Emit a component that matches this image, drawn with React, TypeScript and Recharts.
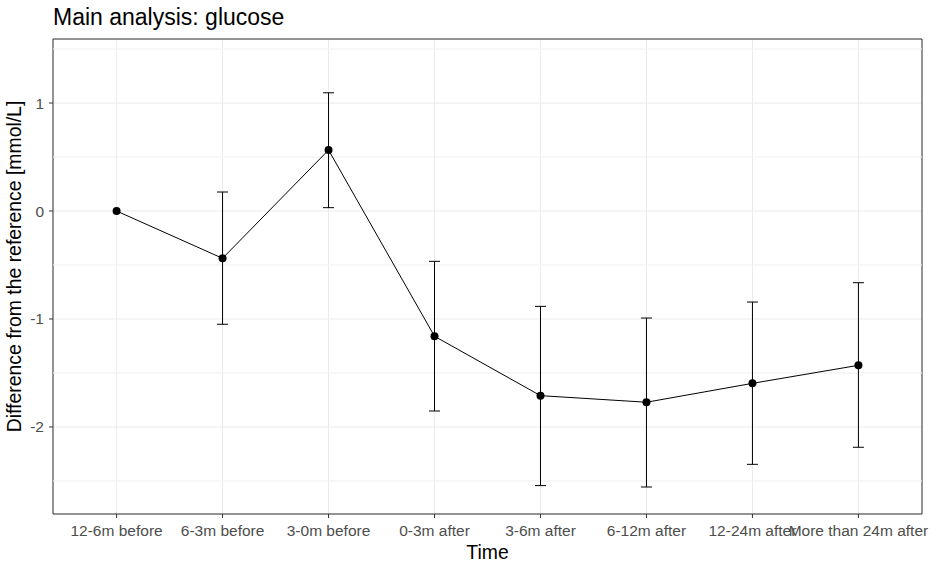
import React from "react";
import {
    ComposedChart,
    Line,
    ErrorBar,
    XAxis,
    YAxis,
    CartesianGrid,
    ReferenceLine,
    ReferenceArea,
} from "recharts";

const categories = [
    "12-6m before",
    "6-3m before",
    "3-0m before",
    "0-3m after",
    "3-6m after",
    "6-12m after",
    "12-24m after",
    "More than 24m after",
];
const estimates = [0, -0.438, 0.565, -1.16, -1.71, -1.771, -1.596, -1.429];
const lowerCI = [null, -1.049, 0.031, -1.852, -2.543, -2.556, -2.346, -2.188];
const upperCI = [null, 0.176, 1.095, -0.466, -0.883, -0.991, -0.843, -0.664];

const yTicks = [-2, -1, 0, 1];
const yMinor = [-2.5, -1.5, -0.5, 0.5, 1.5];
const Y_DOMAIN: [number, number] = [-2.806, 1.593];
const X_DOMAIN: [number, number] = [0.4, 8.6];

const data = categories.map((name, i) => ({
    idx: i + 1,
    name,
    est: estimates[i],
    err:
        lowerCI[i] == null
            ? null
            : [estimates[i] - (lowerCI[i] as number), (upperCI[i] as number) - estimates[i]],
}));

const font = "'Liberation Sans', Arial, sans-serif";

export default function App() {
    return (
        <div
            style={{
                position: "absolute",
                left: 0,
                top: 0,
                width: 932,
                height: 565,
                background: "#fff",
                fontFamily: font,
            }}
        >
            <div
                style={{
                    position: "absolute",
                    left: 53,
                    top: 4,
                    fontSize: 23,
                    color: "#000",
                }}
            >
                Main analysis: glucose
            </div>
            <ComposedChart
                width={932}
                height={565}
                data={data}
                margin={{ top: 39, right: 10, bottom: 0, left: 0 }}
            >
                <CartesianGrid stroke="#ebebeb" strokeWidth={1} />
                {yMinor.map((v) => (
                    <ReferenceLine key={v} y={v} stroke="#efefef" strokeWidth={1} />
                ))}
                <XAxis
                    dataKey="idx"
                    type="number"
                    domain={X_DOMAIN}
                    ticks={categories.map((_, i) => i + 1)}
                    tickFormatter={(v: number) => categories[v - 1]}
                    allowDataOverflow
                    interval={0}
                    height={51}
                    axisLine={false}
                    tickLine={{ stroke: "#333" }}
                    tickSize={4}
                    tickMargin={7}
                    tick={{ fill: "#4d4d4d", fontSize: 15.5, fontFamily: font }}
                    label={{
                        value: "Time",
                        position: "insideBottom",
                        offset: 6,
                        fill: "#000",
                        fontSize: 19.4,
                        fontFamily: font,
                    }}
                />
                <YAxis
                    type="number"
                    domain={Y_DOMAIN}
                    ticks={yTicks}
                    allowDataOverflow
                    width={53}
                    axisLine={false}
                    tickLine={{ stroke: "#333" }}
                    tickSize={4}
                    tickMargin={5}
                    tick={{ fill: "#4d4d4d", fontSize: 15.5, fontFamily: font }}
                    label={{
                        value: "Difference from the reference [mmol/L]",
                        angle: -90,
                        position: "insideLeft",
                        offset: 14,
                        dy: -10,
                        style: { textAnchor: "middle" },
                        fill: "#000",
                        fontSize: 19.4,
                        fontFamily: font,
                    }}
                />
                <ReferenceArea
                    x1={X_DOMAIN[0]}
                    x2={X_DOMAIN[1]}
                    y1={Y_DOMAIN[0]}
                    y2={Y_DOMAIN[1]}
                    fill="none"
                    stroke="#333"
                    strokeWidth={1}
                />
                <Line
                    dataKey="est"
                    stroke="#000"
                    strokeWidth={1}
                    dot={{ r: 4, fill: "#000", stroke: "#000", strokeWidth: 0 }}
                    isAnimationActive={false}
                >
                    <ErrorBar
                        dataKey="err"
                        width={5.5}
                        stroke="#000"
                        strokeWidth={1}
                        direction="y"
                        isAnimationActive={false}
                    />
                </Line>
            </ComposedChart>
        </div>
    );
}
